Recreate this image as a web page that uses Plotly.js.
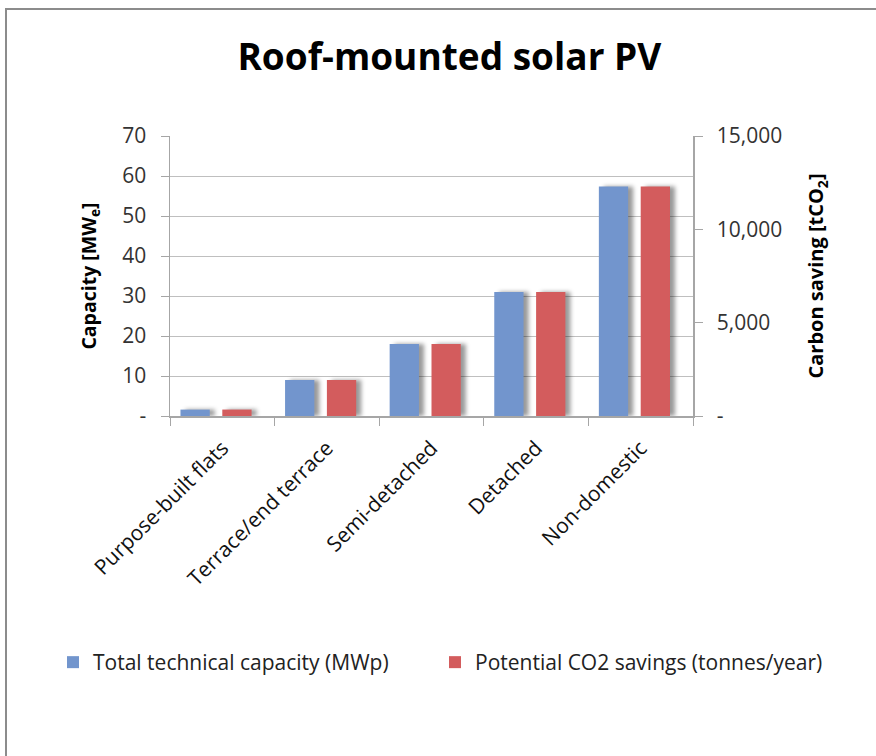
<!DOCTYPE html>
<html>
<head>
<meta charset="utf-8">
<script src="https://cdn.plot.ly/plotly-3.0.1.min.js"></script>
<style>
html,body{margin:0;padding:0;background:#fff;overflow:hidden;}
#chart{width:876px;height:756px;position:absolute;left:0;top:0;}
#frame{position:absolute;left:5px;top:8px;width:900px;height:800px;border-left:2px solid #8c8c8c;border-top:2px solid #8c8c8c;pointer-events:none;}
</style>
</head>
<body>
<div id="chart"></div>
<div id="frame"></div>
<script>
const categories = ['Purpose-built flats','Terrace/end terrace','Semi-detached','Detached','Non-domestic'];
const capacity = [1.6, 9, 18, 31, 57.4];
const co2Savings = [345, 1930, 3860, 6640, 12300];
const leftTickVals = [0,10,20,30,40,50,60,70];
const leftTickText = ['-','10','20','30','40','50','60','70'];
const rightTickVals = [0,5000,10000,15000];
const rightTickText = ['-','5,000','10,000','15,000'];

const FONT = 'Open Sans, Noto Sans, sans-serif';

const traces = [
  {type:'bar', name:'Total technical capacity (MWp)', x:categories, y:capacity,
   marker:{color:'#7295cd'}, width:0.28, offset:-0.40, yaxis:'y', hoverinfo:'y', legend:'legend'},
  {type:'bar', name:'Potential CO2 savings (tonnes/year)', x:categories, y:co2Savings,
   marker:{color:'#d35c5d'}, width:0.28, offset:0.0, yaxis:'y2', hoverinfo:'y', legend:'legend2'}
];

const legendFont = {family:FONT, size:21, color:'#222'};

const layout = {
  width:876, height:756,
  margin:{l:170, r:183, t:136, b:340, pad:0},
  paper_bgcolor:'#fff', plot_bgcolor:'#fff',
  font:{family:FONT, size:16, color:'#333'},
  barmode:'overlay',
  showlegend:true,
  title:{text:'<b>Roof-mounted solar PV</b>', font:{family:FONT, size:37, color:'#000'},
         xref:'container', x:0.513, xanchor:'center', yref:'container', y:0.925, yanchor:'middle'},
  xaxis:{type:'category', tickson:'boundaries', ticks:'outside', ticklen:8, tickcolor:'#a6a6a6',
         showline:true, linecolor:'#a6a6a6', linewidth:1.5, tickangle:-45, ticklabelstandoff:10,
         tickfont:{family:FONT, size:21, color:'#111'}, showgrid:false, fixedrange:true},
  yaxis:{range:[0,70], tickvals:leftTickVals, ticktext:leftTickText, ticks:'outside', ticklen:8,
         tickcolor:'#a6a6a6', showline:true, linecolor:'#a6a6a6', linewidth:1.5, ticklabelstandoff:10,
         showgrid:true, gridcolor:'#bfbfbf', gridwidth:1, zeroline:false,
         tickfont:{family:FONT, size:21, color:'#333'},
         title:{text:'<b>Capacity [MW<sub>e</sub>]</b>', font:{family:FONT, size:19.5, color:'#000'}, standoff:20}},
  yaxis2:{range:[0,15000], overlaying:'y', side:'right', tickvals:rightTickVals, ticktext:rightTickText,
          ticks:'outside', ticklen:8, tickcolor:'#a6a6a6', showline:true, linecolor:'#a6a6a6', linewidth:1.5,
          ticklabelstandoff:10,
          showgrid:false, zeroline:false, tickfont:{family:FONT, size:21, color:'#333'},
          title:{text:'<b>Carbon saving [tCO<sub>2</sub>]</b>', font:{family:FONT, size:20, color:'#000'}, standoff:28}},
  legend:{orientation:'h', xref:'container', yref:'container', x:53/876, y:1-642/756, xanchor:'left', yanchor:'top',
          font:legendFont, itemwidth:30, bgcolor:'rgba(0,0,0,0)'},
  legend2:{orientation:'h', xref:'container', yref:'container', x:435/876, y:1-642/756, xanchor:'left', yanchor:'top',
          font:legendFont, itemwidth:30, bgcolor:'rgba(0,0,0,0)'}
};

Plotly.newPlot('chart', traces, layout, {displayModeBar:false, staticPlot:true}).then(function(gd){
  gd.querySelectorAll('.barlayer .point path').forEach(function(p){
    p.style.filter = 'drop-shadow(5px 0px 2px rgba(0,0,0,0.4))';
  });
});
</script>
</body>
</html>
